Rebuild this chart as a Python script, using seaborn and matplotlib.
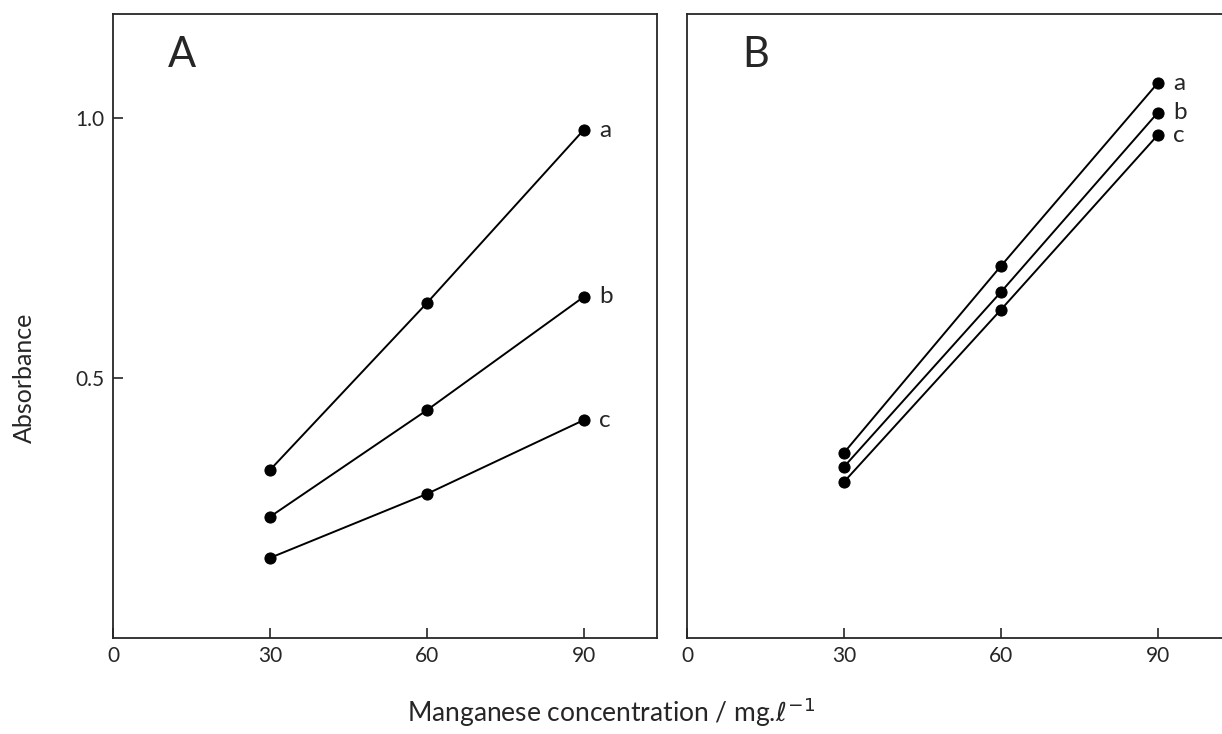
import pandas as pd
import matplotlib.pyplot as plt
import seaborn as sns

# Manganese concentration (mg/l)
conc = [30, 60, 90]
series = ['a', 'b', 'c']

# Panel A absorbance
abs_A = {
    'a': [0.323, 0.644, 0.977],
    'b': [0.233, 0.438, 0.656],
    'c': [0.154, 0.277, 0.419],
}
# Panel B absorbance
abs_B = {
    'a': [0.356, 0.715, 1.067],
    'b': [0.329, 0.665, 1.010],
    'c': [0.300, 0.631, 0.967],
}

x_ticks = [0, 30, 60, 90]
y_ticks = [0.5, 1.0]
y_ticklabels = ['0.5', '1.0']


def to_long(d):
    rows = []
    for s in series:
        for c, v in zip(conc, d[s]):
            rows.append({'conc': c, 'abs': v, 'series': s})
    return pd.DataFrame(rows)


sns.set_style('ticks')
plt.rcParams['font.family'] = ['Lato', 'DejaVu Sans']
plt.rcParams['mathtext.fontset'] = 'dejavusans'

fig = plt.figure(figsize=(12.22, 7.34), dpi=100)
ax_a = fig.add_axes([0.0925, 0.1308, 0.445, 0.850])
ax_b = fig.add_axes([0.5622, 0.1308, 0.445, 0.850])

for ax, d, letter in [(ax_a, abs_A, 'A'), (ax_b, abs_B, 'B')]:
    df = to_long(d)
    sns.lineplot(data=df, x='conc', y='abs', hue='series', ax=ax,
                 palette=['black'] * 3, marker='o', markersize=8,
                 markeredgecolor='black', linewidth=1.4, legend=False)
    ax.set_xlim(0, 104)
    ax.set_ylim(0, 1.2)
    ax.set_xticks(x_ticks)
    ax.set_xticklabels([str(t) for t in x_ticks], fontsize=15)
    ax.tick_params(direction='in', length=7, width=1.2, pad=6)
    ax.set_xlabel('')
    ax.set_ylabel('')
    for sp in ax.spines.values():
        sp.set_visible(True)
        sp.set_linewidth(1.3)
    ax.text(13.2, 1.121, letter, fontsize=30, ha='center', va='center')
    for s in series:
        ax.annotate(s, (conc[-1], d[s][-1]), xytext=(11, 0),
                    textcoords='offset points', ha='left', va='center',
                    fontsize=17.5)

ax_a.set_yticks(y_ticks)
ax_a.set_yticklabels(y_ticklabels, fontsize=15)
ax_b.set_yticks([])

fig.text(0.02, 0.485, 'Absorbance', rotation=90, ha='center', va='center',
         fontsize=18)
fig.text(0.5, 0.03, r'Manganese concentration / mg.$\ell^{-1}$',
         ha='center', va='center', fontsize=19)

fig.savefig('out.png', dpi=100)
